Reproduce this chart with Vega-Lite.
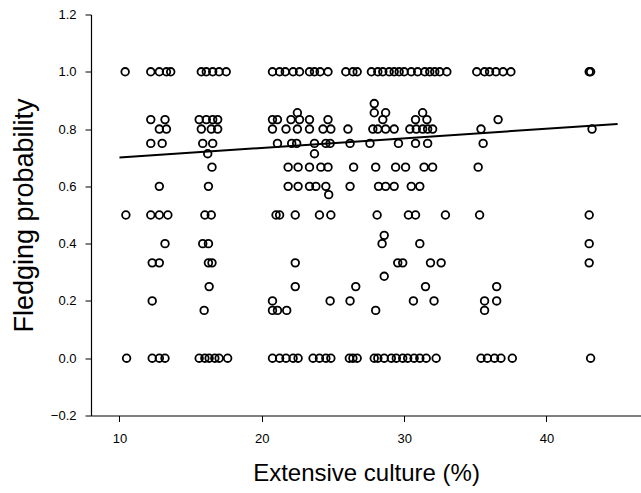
{
  "$schema": "https://vega.github.io/schema/vega-lite/v6.json",
  "autosize": "none",
  "width": 550,
  "height": 401,
  "padding": {"left": 91, "top": 14.5, "right": 0, "bottom": 78},
  "background": "white",
  "config": {
    "view": {"stroke": null},
    "font": "Liberation Sans",
    "axis": {
      "grid": false,
      "domainColor": "black",
      "domainWidth": 1.2,
      "tickColor": "black",
      "tickWidth": 1,
      "tickSize": 6,
      "labelColor": "black",
      "labelFont": "Liberation Sans",
      "labelFontSize": 13,
      "titleColor": "black",
      "titleFont": "Liberation Sans",
      "titleFontSize": 24,
      "titleFontWeight": "normal"
    }
  },
  "datasets": {
    "points": [
      {"ext": 10.4, "p": 1.0}, {"ext": 12.2, "p": 1.0}, {"ext": 12.8, "p": 1.0}, {"ext": 13.3, "p": 1.0}, {"ext": 13.6, "p": 1.0},
      {"ext": 15.75, "p": 1.0}, {"ext": 16.1, "p": 1.0}, {"ext": 16.55, "p": 1.0}, {"ext": 17.0, "p": 1.0}, {"ext": 17.5, "p": 1.0},
      {"ext": 20.75, "p": 1.0}, {"ext": 21.25, "p": 1.0}, {"ext": 21.65, "p": 1.0}, {"ext": 22.2, "p": 1.0}, {"ext": 22.65, "p": 1.0},
      {"ext": 23.35, "p": 1.0}, {"ext": 23.7, "p": 1.0}, {"ext": 24.1, "p": 1.0}, {"ext": 24.65, "p": 1.0}, {"ext": 25.9, "p": 1.0},
      {"ext": 26.4, "p": 1.0}, {"ext": 26.7, "p": 1.0}, {"ext": 27.7, "p": 1.0}, {"ext": 28.15, "p": 1.0}, {"ext": 28.5, "p": 1.0},
      {"ext": 28.95, "p": 1.0}, {"ext": 29.3, "p": 1.0}, {"ext": 29.65, "p": 1.0}, {"ext": 30.0, "p": 1.0}, {"ext": 30.5, "p": 1.0},
      {"ext": 30.95, "p": 1.0}, {"ext": 31.45, "p": 1.0}, {"ext": 31.8, "p": 1.0}, {"ext": 32.15, "p": 1.0}, {"ext": 32.5, "p": 1.0},
      {"ext": 33.0, "p": 1.0}, {"ext": 35.1, "p": 1.0}, {"ext": 35.65, "p": 1.0}, {"ext": 36.0, "p": 1.0}, {"ext": 36.45, "p": 1.0},
      {"ext": 36.95, "p": 1.0}, {"ext": 37.5, "p": 1.0}, {"ext": 43.0, "p": 1.0}, {"ext": 43.1, "p": 1.0},
      {"ext": 27.9, "p": 0.889},
      {"ext": 22.5, "p": 0.857}, {"ext": 27.9, "p": 0.857}, {"ext": 28.7, "p": 0.857}, {"ext": 31.3, "p": 0.857},
      {"ext": 12.2, "p": 0.833}, {"ext": 13.2, "p": 0.833}, {"ext": 15.6, "p": 0.833}, {"ext": 16.1, "p": 0.833}, {"ext": 16.55, "p": 0.833},
      {"ext": 16.9, "p": 0.833}, {"ext": 20.75, "p": 0.833}, {"ext": 21.1, "p": 0.833}, {"ext": 22.05, "p": 0.833}, {"ext": 22.65, "p": 0.833},
      {"ext": 23.35, "p": 0.833}, {"ext": 24.65, "p": 0.833}, {"ext": 28.5, "p": 0.833}, {"ext": 30.8, "p": 0.833}, {"ext": 31.6, "p": 0.833},
      {"ext": 36.6, "p": 0.833},
      {"ext": 12.8, "p": 0.8}, {"ext": 13.3, "p": 0.8}, {"ext": 15.75, "p": 0.8}, {"ext": 16.45, "p": 0.8}, {"ext": 16.9, "p": 0.8},
      {"ext": 20.75, "p": 0.8}, {"ext": 21.7, "p": 0.8}, {"ext": 22.5, "p": 0.8}, {"ext": 23.35, "p": 0.8}, {"ext": 24.3, "p": 0.8},
      {"ext": 24.85, "p": 0.8}, {"ext": 26.05, "p": 0.8}, {"ext": 27.8, "p": 0.8}, {"ext": 28.15, "p": 0.8}, {"ext": 28.7, "p": 0.8},
      {"ext": 29.3, "p": 0.8}, {"ext": 30.4, "p": 0.8}, {"ext": 30.85, "p": 0.8}, {"ext": 31.3, "p": 0.8}, {"ext": 31.65, "p": 0.8},
      {"ext": 32.0, "p": 0.8}, {"ext": 35.4, "p": 0.8}, {"ext": 43.2, "p": 0.8},
      {"ext": 12.2, "p": 0.75}, {"ext": 13.0, "p": 0.75}, {"ext": 15.85, "p": 0.75}, {"ext": 16.55, "p": 0.75}, {"ext": 21.1, "p": 0.75},
      {"ext": 22.1, "p": 0.75}, {"ext": 22.45, "p": 0.75}, {"ext": 23.7, "p": 0.75}, {"ext": 24.5, "p": 0.75}, {"ext": 24.8, "p": 0.75},
      {"ext": 26.2, "p": 0.75}, {"ext": 27.6, "p": 0.75}, {"ext": 29.6, "p": 0.75}, {"ext": 30.8, "p": 0.75}, {"ext": 31.65, "p": 0.75},
      {"ext": 35.55, "p": 0.75},
      {"ext": 16.2, "p": 0.714}, {"ext": 23.7, "p": 0.714},
      {"ext": 16.5, "p": 0.667}, {"ext": 21.85, "p": 0.667}, {"ext": 22.55, "p": 0.667}, {"ext": 23.35, "p": 0.667}, {"ext": 24.15, "p": 0.667},
      {"ext": 24.65, "p": 0.667}, {"ext": 26.45, "p": 0.667}, {"ext": 28.0, "p": 0.667}, {"ext": 29.4, "p": 0.667}, {"ext": 30.1, "p": 0.667},
      {"ext": 31.4, "p": 0.667}, {"ext": 32.0, "p": 0.667}, {"ext": 35.2, "p": 0.667},
      {"ext": 12.8, "p": 0.6}, {"ext": 16.25, "p": 0.6}, {"ext": 21.85, "p": 0.6}, {"ext": 22.55, "p": 0.6}, {"ext": 23.35, "p": 0.6},
      {"ext": 23.8, "p": 0.6}, {"ext": 24.5, "p": 0.6}, {"ext": 26.2, "p": 0.6}, {"ext": 28.2, "p": 0.6}, {"ext": 28.7, "p": 0.6},
      {"ext": 29.3, "p": 0.6}, {"ext": 30.5, "p": 0.6}, {"ext": 31.1, "p": 0.6},
      {"ext": 24.7, "p": 0.571},
      {"ext": 10.45, "p": 0.5}, {"ext": 12.2, "p": 0.5}, {"ext": 12.8, "p": 0.5}, {"ext": 13.4, "p": 0.5}, {"ext": 16.0, "p": 0.5},
      {"ext": 16.45, "p": 0.5}, {"ext": 21.0, "p": 0.5}, {"ext": 21.25, "p": 0.5}, {"ext": 22.35, "p": 0.5}, {"ext": 24.05, "p": 0.5},
      {"ext": 24.85, "p": 0.5}, {"ext": 28.1, "p": 0.5}, {"ext": 30.3, "p": 0.5}, {"ext": 30.8, "p": 0.5}, {"ext": 32.9, "p": 0.5},
      {"ext": 35.3, "p": 0.5}, {"ext": 43.0, "p": 0.5},
      {"ext": 28.6, "p": 0.429},
      {"ext": 13.2, "p": 0.4}, {"ext": 15.85, "p": 0.4}, {"ext": 16.25, "p": 0.4}, {"ext": 28.45, "p": 0.4}, {"ext": 31.1, "p": 0.4},
      {"ext": 43.0, "p": 0.4},
      {"ext": 12.3, "p": 0.333}, {"ext": 12.8, "p": 0.333}, {"ext": 16.25, "p": 0.333}, {"ext": 16.5, "p": 0.333}, {"ext": 22.35, "p": 0.333},
      {"ext": 29.55, "p": 0.333}, {"ext": 29.9, "p": 0.333}, {"ext": 31.85, "p": 0.333}, {"ext": 32.6, "p": 0.333}, {"ext": 43.0, "p": 0.333},
      {"ext": 28.6, "p": 0.286},
      {"ext": 16.3, "p": 0.25}, {"ext": 22.35, "p": 0.25}, {"ext": 26.6, "p": 0.25}, {"ext": 31.5, "p": 0.25}, {"ext": 36.5, "p": 0.25},
      {"ext": 12.3, "p": 0.2}, {"ext": 20.75, "p": 0.2}, {"ext": 24.8, "p": 0.2}, {"ext": 26.2, "p": 0.2}, {"ext": 30.65, "p": 0.2},
      {"ext": 32.1, "p": 0.2}, {"ext": 35.65, "p": 0.2}, {"ext": 36.5, "p": 0.2},
      {"ext": 15.95, "p": 0.167}, {"ext": 20.75, "p": 0.167}, {"ext": 21.1, "p": 0.167}, {"ext": 21.75, "p": 0.167}, {"ext": 28.0, "p": 0.167},
      {"ext": 35.65, "p": 0.167},
      {"ext": 10.5, "p": 0.0}, {"ext": 12.3, "p": 0.0}, {"ext": 12.8, "p": 0.0}, {"ext": 13.2, "p": 0.0}, {"ext": 15.6, "p": 0.0},
      {"ext": 16.0, "p": 0.0}, {"ext": 16.3, "p": 0.0}, {"ext": 16.7, "p": 0.0}, {"ext": 17.0, "p": 0.0}, {"ext": 17.6, "p": 0.0},
      {"ext": 20.75, "p": 0.0}, {"ext": 21.25, "p": 0.0}, {"ext": 21.7, "p": 0.0}, {"ext": 22.2, "p": 0.0}, {"ext": 22.55, "p": 0.0},
      {"ext": 23.6, "p": 0.0}, {"ext": 24.05, "p": 0.0}, {"ext": 24.5, "p": 0.0}, {"ext": 24.85, "p": 0.0}, {"ext": 26.15, "p": 0.0},
      {"ext": 26.4, "p": 0.0}, {"ext": 26.7, "p": 0.0}, {"ext": 27.9, "p": 0.0}, {"ext": 28.15, "p": 0.0}, {"ext": 28.6, "p": 0.0},
      {"ext": 29.1, "p": 0.0}, {"ext": 29.45, "p": 0.0}, {"ext": 29.9, "p": 0.0}, {"ext": 30.25, "p": 0.0}, {"ext": 30.7, "p": 0.0},
      {"ext": 31.1, "p": 0.0}, {"ext": 31.55, "p": 0.0}, {"ext": 32.25, "p": 0.0}, {"ext": 35.4, "p": 0.0}, {"ext": 35.85, "p": 0.0},
      {"ext": 36.35, "p": 0.0}, {"ext": 36.8, "p": 0.0}, {"ext": 37.6, "p": 0.0}, {"ext": 43.1, "p": 0.0}
    ],
    "fit": [
      {"ext": 10.0, "p": 0.701},
      {"ext": 45.0, "p": 0.818}
    ]
  },
  "layer": [
    {
      "data": {"name": "points"},
      "mark": {"type": "point", "shape": "circle", "filled": false, "stroke": "black", "strokeWidth": 1.8, "size": 58, "opacity": 1},
      "encoding": {
        "x": {
          "field": "ext", "type": "quantitative",
          "scale": {"domain": [8, 46.64], "nice": false, "zero": false},
          "axis": {"values": [10, 20, 30, 40], "title": "Extensive culture (%)", "labelPadding": 11, "titlePadding": 16, "format": "d"}
        },
        "y": {
          "field": "p", "type": "quantitative",
          "scale": {"domain": [-0.2, 1.2], "nice": false, "zero": false},
          "axis": {"values": [-0.2, 0, 0.2, 0.4, 0.6, 0.8, 1.0, 1.2], "format": ".1f", "title": "Fledging probability", "titleFontSize": 27, "labelPadding": 9, "titlePadding": 12}
        }
      }
    },
    {
      "data": {"name": "fit"},
      "mark": {"type": "line", "color": "black", "strokeWidth": 2},
      "encoding": {
        "x": {"field": "ext", "type": "quantitative"},
        "y": {"field": "p", "type": "quantitative"}
      }
    },
    {
      "mark": {"type": "rule", "color": "black", "strokeWidth": 1.5},
      "encoding": {"y": {"datum": 1.2}}
    }
  ]
}
